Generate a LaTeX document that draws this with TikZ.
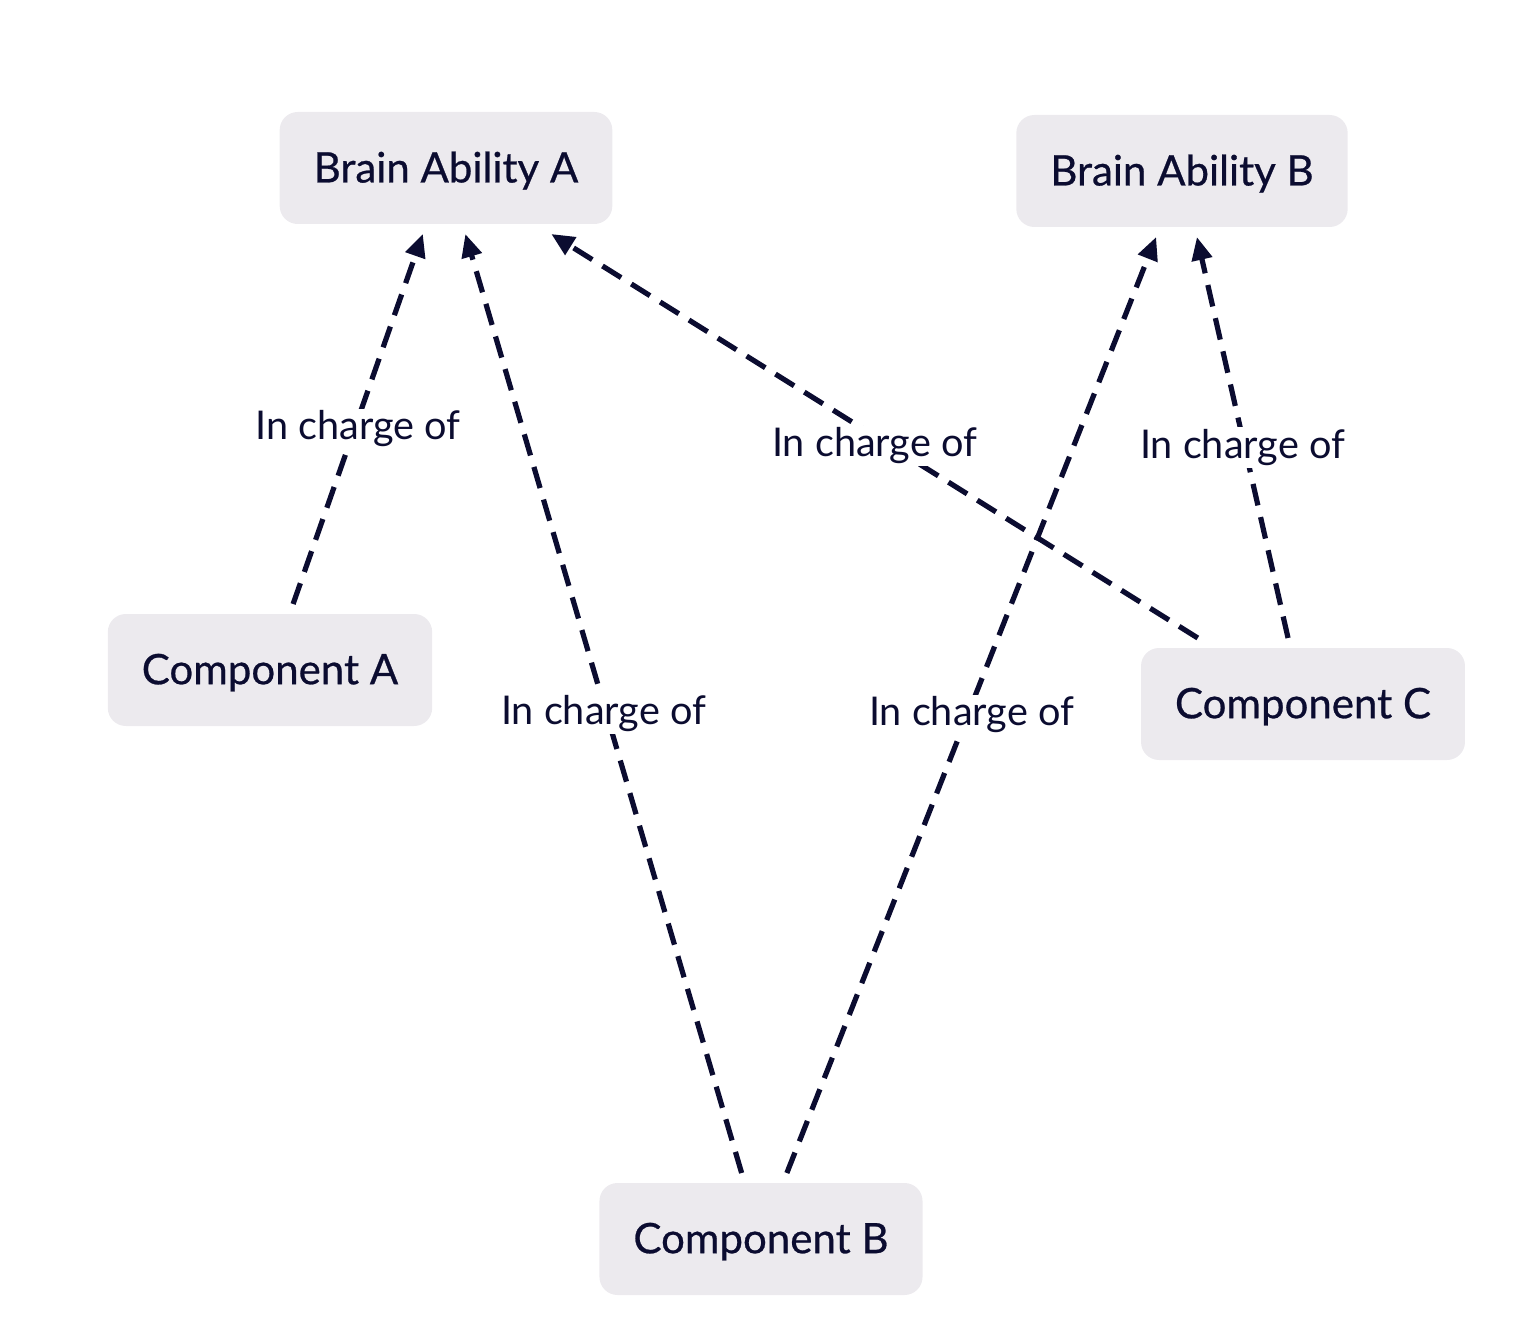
\documentclass[tikz,border=0pt]{standalone}
\usepackage{fontspec}
\setmainfont{Lato}
\newfontfamily\boxfont[FakeBold=0.6]{Lato}
\usepackage{xcolor}
\usepackage{tikz}
\usetikzlibrary{arrows.meta}
\definecolor{inkblue}{HTML}{0B0C30}
\definecolor{boxgray}{HTML}{ECEAEE}

\tikzset{
	ability/.style={fill=boxgray, rounded corners=9pt, minimum height=56pt,
		inner xsep=17pt, text=inkblue, outer sep=5pt, text depth=1pt,
		font=\boxfont\fontsize{21}{24}\selectfont},
	charge/.style={draw=inkblue, line width=2.6pt, dash pattern=on 11pt off 6pt,
		-{Triangle[length=11.5pt,width=10pt]}},
	chargelabel/.style={fill=white, text=inkblue, inner sep=1pt, yshift=-5pt,
		font=\fontsize{19.8}{23}\selectfont}
}

\begin{document}
\begin{tikzpicture}[x=0.5pt, y=-0.5pt]

	\useasboundingbox (0,0) rectangle (1528,1338);

	% abilities
	\node[ability] (brainA) at (446,168) {Brain Ability A};
	\node[ability] (brainB) at (1182,171) {Brain Ability B};

	% components
	\node[ability] (compA) at (270,670) {Component A};
	\node[ability] (compB) at (761,1239) {Component B};
	\node[ability] (compC) at (1303,704) {Component C};

	% who is in charge of what
	\draw[charge] (compA) -- (brainA) node[midway, chargelabel] {In charge of};
	\draw[charge] (compB) -- (brainA) node[midway, chargelabel] {In charge of};
	\draw[charge] (compC) -- (brainA) node[midway, chargelabel] {In charge of};
	\draw[charge] (compB) -- (brainB) node[midway, chargelabel] {In charge of};
	\draw[charge] (compC) -- (brainB) node[midway, chargelabel] {In charge of};

\end{tikzpicture}
\end{document}
